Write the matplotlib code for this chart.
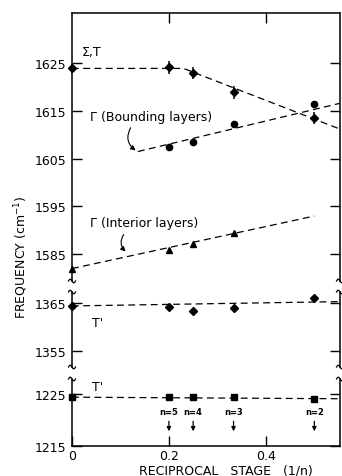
import numpy as np
import matplotlib.pyplot as plt
from matplotlib.lines import Line2D

# reciprocal stage 1/n  (n = inf, 5, 4, 3, 2)
stage = [0.0, 0.2, 0.25, 1 / 3, 0.5]

# Sigma, T mode (with error bars)
sigma_t = [1623.9, 1624.1, 1623.0, 1618.9, 1613.5]
sigma_t_err = [1.0, 1.3, 1.3, 1.3, 1.3]
sigma_fit_x = [0.0, 0.23, 0.553]
sigma_fit_y = [1623.9, 1623.9, 1611.2]

# Gamma, bounding layers
bound_x = [0.2, 0.25, 1 / 3, 0.5]
bound = [1607.4, 1608.4, 1612.2, 1616.4]
bound_fit_x = [0.136, 0.553]
bound_fit_y = [1606.5, 1616.6]

# Gamma, interior layers
inter_x = [0.0, 0.2, 0.25, 1 / 3]
inter = [1582.0, 1585.9, 1587.1, 1589.4]
inter_fit_x = [0.0, 0.5]
inter_fit_y = [1582.0, 1593.0]

# T' near 1365
t1 = [1364.3, 1364.1, 1363.3, 1363.9, 1366.1]
t1_fit_x = [0.0, 0.553]
t1_fit_y = [1364.4, 1365.3]

# T' near 1225
t2 = [1224.4, 1224.4, 1224.4, 1224.4, 1224.0]
t2_fit_x = [0.0, 0.553]
t2_fit_y = [1224.4, 1224.1]

n_labels = ["n=5", "n=4", "n=3", "n=2"]
n_x = [0.2, 0.25, 1 / 3, 0.5]

W, H = 342, 477
fig = plt.figure(figsize=(W / 100, H / 100), dpi=100)

X0, X1 = 72, 340


def pos(top, bottom):
    return [X0 / W, 1 - bottom / H, (X1 - X0) / W, (bottom - top) / H]


ax1 = fig.add_axes(pos(14, 282))
ax2 = fig.add_axes(pos(293, 368))
ax3 = fig.add_axes(pos(380, 447))

dash = (0, (5.5, 3.5))
lw = 0.9
fs = 9

for ax in (ax1, ax2, ax3):
    ax.set_xlim(0, 0.553)
    for s in ax.spines.values():
        s.set_linewidth(1.1)
    ax.tick_params(axis="y", which="both", direction="in", length=7, width=1,
                   left=True, right=True, labelsize=fs, pad=4)

ax1.set_ylim(1579.4, 1635.5)
ax1.set_yticks([1585, 1595, 1605, 1615, 1625])
ax2.set_ylim(1351.7, 1367.3)
ax2.set_yticks([1355, 1365])
ax3.set_ylim(1215, 1227.9)
ax3.set_yticks([1215, 1225])

ax1.spines["bottom"].set_visible(False)
ax2.spines["top"].set_visible(False)
ax2.spines["bottom"].set_visible(False)
ax3.spines["top"].set_visible(False)

ax1.set_xticks([0.2, 0.4])
ax1.tick_params(axis="x", top=True, bottom=False, labeltop=False, labelbottom=False,
                direction="in", length=7, width=1)
ax2.set_xticks([])
ax3.set_xticks([0, 0.2, 0.4])
ax3.set_xticklabels(["0", "0.2", "0.4"])
ax3.tick_params(axis="x", direction="in", length=7, width=1, labelsize=fs, pad=2)

# --- top panel: 1580-1635
ax1.plot(sigma_fit_x, sigma_fit_y, color="black", lw=lw, ls=dash)
ax1.errorbar(stage, sigma_t, yerr=sigma_t_err, fmt="D", ms=4, color="black",
             elinewidth=1.1, capsize=0, clip_on=False, zorder=3)
ax1.plot(bound_fit_x, bound_fit_y, color="black", lw=lw, ls=dash)
ax1.plot(bound_x, bound, "o", ms=4.5, color="black", clip_on=False, zorder=3)
ax1.plot(inter_fit_x, inter_fit_y, color="black", lw=lw, ls=dash)
ax1.plot(inter_x, inter, "^", ms=5, color="black", clip_on=False, zorder=3)

ax1.text(0.02, 1627.4, "Σ,T", fontsize=fs, va="center")
ax1.text(0.037, 1613.9, "Γ (Bounding layers)", fontsize=9, va="center")
ax1.annotate("", xy=(0.136, 1606.4), xytext=(0.124, 1612.0),
             arrowprops=dict(arrowstyle="-|>", color="black", lw=0.8,
                             mutation_scale=7,
                             connectionstyle="arc3,rad=0.5"))
ax1.text(0.037, 1591.7, "Γ (Interior layers)", fontsize=9, va="center")
ax1.annotate("", xy=(0.115, 1585.2), xytext=(0.11, 1589.6),
             arrowprops=dict(arrowstyle="-|>", color="black", lw=0.8,
                             mutation_scale=7,
                             connectionstyle="arc3,rad=0.5"))

# --- middle panel: T' near 1365
ax2.plot(t1_fit_x, t1_fit_y, color="black", lw=lw, ls=dash)
ax2.plot(stage, t1, "D", ms=4, color="black", clip_on=False, zorder=3)
ax2.text(0.041, 1361.0, "T'", fontsize=fs, va="center")

# --- bottom panel: T' near 1225
ax3.plot(t2_fit_x, t2_fit_y, color="black", lw=lw, ls=dash)
ax3.plot(stage, t2, "s", ms=4, color="black", clip_on=False, zorder=3)
ax3.text(0.041, 1226.5, "T'", fontsize=fs, va="center")

for lab, xv in zip(n_labels, n_x):
    ax3.text(xv, 1221.6, lab, fontsize=6, ha="center", va="center", fontweight="bold")
    ax3.annotate("", xy=(xv, 1217.3), xytext=(xv, 1220.3),
                 arrowprops=dict(arrowstyle="-|>", color="black", lw=0.9,
                                 mutation_scale=6))

# axis break marks on both sides
for yb in (282, 293, 368, 380):
    for xb in (X0, X1):
        t = np.linspace(-1, 1, 25)
        xs = (xb + 3.5 * t) / W
        ys = 1 - (yb + 1.8 * np.sin(np.pi * t)) / H
        fig.add_artist(Line2D(xs, ys, color="black", lw=0.9, transform=fig.transFigure))

fig.text(0.062, 0.46, "FREQUENCY (cm$^{-1}$)", rotation=90, fontsize=fs,
         ha="center", va="center")
fig.text(226 / W, 1 - 471 / H, "RECIPROCAL   STAGE   (1/n)", fontsize=fs,
         ha="center", va="center")

fig.savefig("out.png", dpi=100)
